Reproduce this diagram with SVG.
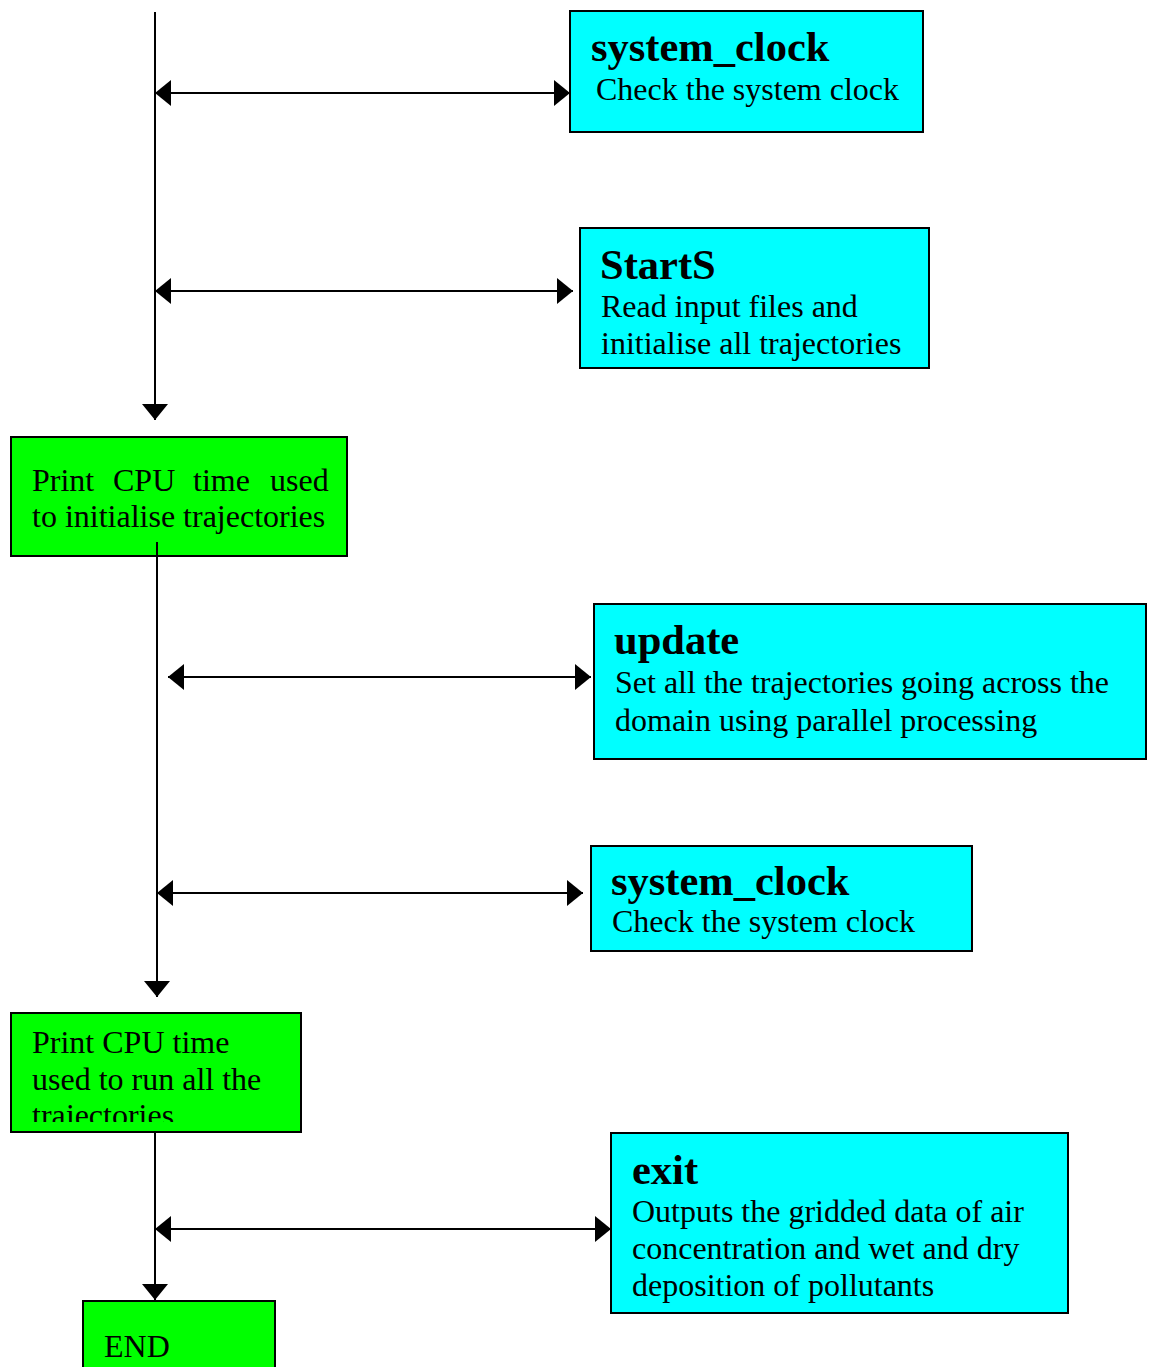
<svg xmlns="http://www.w3.org/2000/svg" width="1150" height="1367" viewBox="0 0 1150 1367">
<style>
.cy{fill:#00ffff;stroke:#000;stroke-width:2}
.gr{fill:#00ff00;stroke:#000;stroke-width:2}
.t{font-family:"Liberation Serif","Times New Roman",serif;font-size:32px;fill:#000}
.b{font-family:"Liberation Serif","Times New Roman",serif;font-size:42.5px;font-weight:bold;fill:#000}
.ln{stroke:#000;stroke-width:2;fill:none}
</style>
<defs>
<marker id="ah" viewBox="0 0 16 26" refX="16" refY="13" markerWidth="16" markerHeight="26" markerUnits="userSpaceOnUse" orient="auto-start-reverse">
<path d="M0,0 L16,13 L0,26 Z" fill="#000"/>
</marker>
<clipPath id="c2"><rect x="11" y="1013" width="290" height="109"/></clipPath>
</defs>
<g id="node-system-clock-1">
<rect class="cy" x="570" y="11" width="353" height="121"/>
<text class="b" x="591" y="61">system_clock</text>
<text class="t" x="596" y="100">Check the system clock</text>
</g>
<g id="node-starts">
<rect class="cy" x="580" y="228" width="349" height="140"/>
<text class="b" x="600" y="279">StartS</text>
<text class="t" x="601" y="317">Read input files and</text>
<text class="t" x="601" y="354">initialise all trajectories</text>
</g>
<g id="node-print-cpu-init">
<rect class="gr" x="11" y="437" width="336" height="119"/>
<text class="t" y="491"><tspan x="32">Print</tspan><tspan x="113">CPU</tspan><tspan x="193">time</tspan><tspan x="270">used</tspan></text>
<text class="t" x="32" y="527">to initialise trajectories</text>
</g>
<g id="node-update">
<rect class="cy" x="594" y="604" width="552" height="155"/>
<text class="b" x="614" y="654">update</text>
<text class="t" x="615" y="693">Set all the trajectories going across the</text>
<text class="t" x="615" y="731">domain using parallel processing</text>
</g>
<g id="node-system-clock-2">
<rect class="cy" x="591" y="846" width="381" height="105"/>
<text class="b" x="611" y="895">system_clock</text>
<text class="t" x="612" y="932">Check the system clock</text>
</g>
<g id="node-print-cpu-run">
<rect class="gr" x="11" y="1013" width="290" height="119"/>
<g clip-path="url(#c2)">
<text class="t" x="32" y="1053">Print CPU time</text>
<text class="t" x="32" y="1090">used to run all the</text>
<text class="t" x="32" y="1126">trajectories</text>
</g>
</g>
<g id="node-exit">
<rect class="cy" x="611" y="1133" width="457" height="180"/>
<text class="b" x="632" y="1184">exit</text>
<text class="t" x="632" y="1222">Outputs the gridded data of air</text>
<text class="t" x="632" y="1259">concentration and wet and dry</text>
<text class="t" x="632" y="1296">deposition of pollutants</text>
</g>
<g id="node-end">
<rect class="gr" x="83" y="1301" width="192" height="80"/>
<text class="t" x="104" y="1357">END</text>
</g>
<g id="connectors">
<line class="ln" x1="155" y1="12" x2="155" y2="420" marker-end="url(#ah)"/>
<line class="ln" x1="157" y1="542" x2="157" y2="997" marker-end="url(#ah)"/>
<line class="ln" x1="155" y1="1133" x2="155" y2="1300" marker-end="url(#ah)"/>
<line class="ln" x1="155" y1="93" x2="570" y2="93" marker-start="url(#ah)" marker-end="url(#ah)"/>
<line class="ln" x1="155" y1="291" x2="573" y2="291" marker-start="url(#ah)" marker-end="url(#ah)"/>
<line class="ln" x1="168" y1="677" x2="591" y2="677" marker-start="url(#ah)" marker-end="url(#ah)"/>
<line class="ln" x1="157" y1="893" x2="583" y2="893" marker-start="url(#ah)" marker-end="url(#ah)"/>
<line class="ln" x1="155" y1="1229" x2="611" y2="1229" marker-start="url(#ah)" marker-end="url(#ah)"/>
</g>
</svg>
